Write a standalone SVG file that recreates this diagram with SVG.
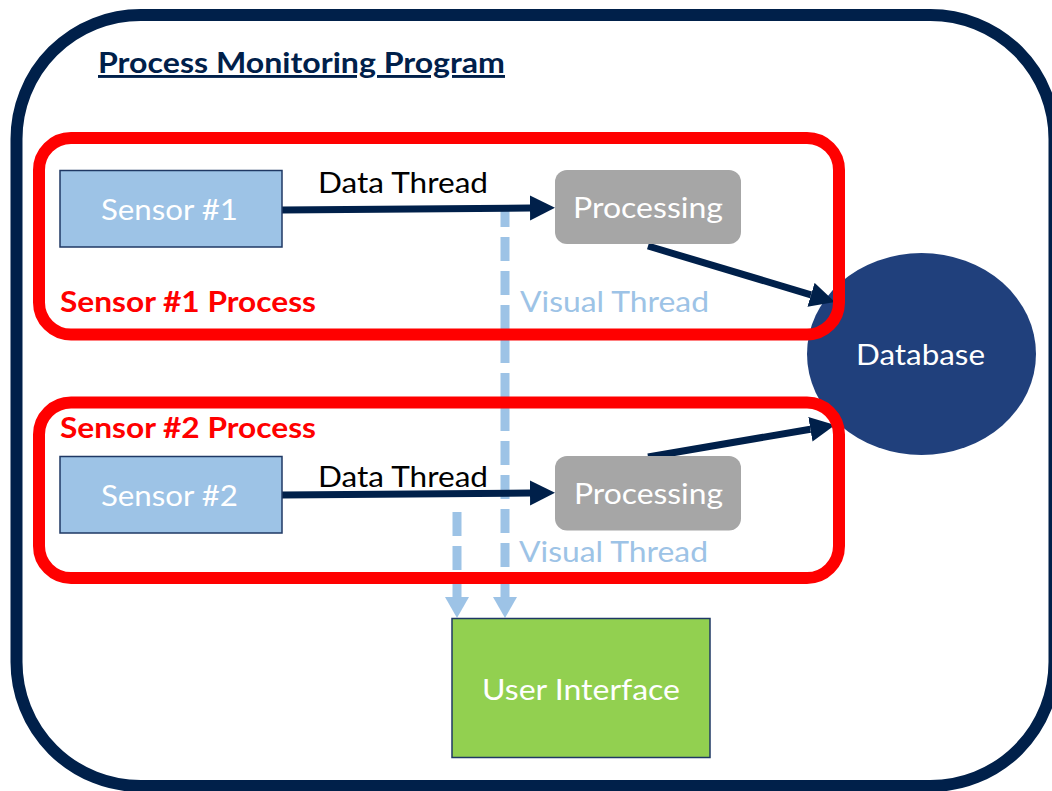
<svg xmlns="http://www.w3.org/2000/svg" width="1052" height="791" viewBox="0 0 1052 791">
  <defs>
    <marker id="navyHead" markerUnits="userSpaceOnUse" markerWidth="26" markerHeight="26" refX="0" refY="12.5" orient="auto">
      <path d="M0,0 L25,12.5 L0,25 Z" fill="#00204A"/>
    </marker>
    <marker id="blueHead" markerUnits="userSpaceOnUse" markerWidth="22" markerHeight="26" refX="0" refY="12" orient="auto">
      <path d="M0,0 L21,12 L0,24 Z" fill="#9DC3E6"/>
    </marker>
    <style>
      .t { font-family: Lato, "Open Sans", "Liberation Sans", sans-serif; font-size: 29px; }
      .b { font-weight: bold; }
      .white { fill: #FFFFFF; }
      .red { fill: #FF0000; }
      .lblue { fill: #9DC3E6; }
      .group { fill: none; stroke: #FF0000; stroke-width: 12; }
      .sensor { fill: #9DC3E6; stroke: #1F3864; stroke-width: 1.5; }
      .proc { fill: #A6A6A6; }
      .data { fill: none; stroke: #00204A; stroke-width: 7; marker-end: url(#navyHead); }
      .visual { fill: none; stroke: #9DC3E6; stroke-width: 9; marker-end: url(#blueHead); }
    </style>
  </defs>
  <rect width="1052" height="791" fill="#FFFFFF"/>

  <g id="frame">
    <rect x="16.5" y="15" width="1038" height="771" rx="124" ry="124" fill="none" stroke="#00204A" stroke-width="12"/>
    <text class="t b" x="98" y="73" textLength="407" lengthAdjust="spacingAndGlyphs" fill="#00204A" text-decoration="underline">Process Monitoring Program</text>
  </g>

  <g id="database">
    <ellipse cx="921.5" cy="354" rx="114.5" ry="101" fill="#20407C"/>
    <text class="t white" x="856" y="365" textLength="129" lengthAdjust="spacingAndGlyphs">Database</text>
  </g>

  <g id="connectors">
    <path class="visual" d="M505,210 V597" stroke-dasharray="24 10" stroke-dashoffset="7"/>
    <path class="visual" d="M457,512 V597" stroke-dasharray="24 10"/>
    <path class="data" d="M282,210 L530,208"/>
    <path class="data" d="M282,495 L530,493"/>
    <path class="data" d="M648,246 L811,294.8"/>
    <path class="data" d="M648,457 L810.4,429.2"/>
  </g>

  <g id="sensor1-process">
    <rect class="group" x="39" y="138" width="800" height="196.5" rx="32" ry="32"/>
    <text class="t b red" x="60" y="312" textLength="256" lengthAdjust="spacingAndGlyphs">Sensor #1 Process</text>
  </g>

  <g id="sensor2-process">
    <rect class="group" x="39" y="402.5" width="800" height="175.5" rx="32" ry="32"/>
    <text class="t b red" x="60" y="438" textLength="256" lengthAdjust="spacingAndGlyphs">Sensor #2 Process</text>
  </g>

  <g id="sensor1">
    <rect class="sensor" x="60" y="170.5" width="222" height="76.5"/>
    <text class="t white" x="101" y="220" textLength="137" lengthAdjust="spacingAndGlyphs">Sensor #1</text>
  </g>

  <g id="sensor2">
    <rect class="sensor" x="60" y="456.5" width="222" height="76.5"/>
    <text class="t white" x="101" y="506" textLength="137" lengthAdjust="spacingAndGlyphs">Sensor #2</text>
  </g>

  <g id="processing1">
    <rect class="proc" x="555" y="170" width="186" height="74" rx="12" ry="12"/>
    <text class="t white" x="573" y="218" textLength="150" lengthAdjust="spacingAndGlyphs">Processing</text>
  </g>

  <g id="processing2">
    <rect class="proc" x="555" y="456" width="186" height="74.5" rx="12" ry="12"/>
    <text class="t white" x="574" y="504" textLength="149" lengthAdjust="spacingAndGlyphs">Processing</text>
  </g>

  <g id="labels">
    <text class="t" x="318" y="193" textLength="170" lengthAdjust="spacingAndGlyphs" fill="#000000">Data Thread</text>
    <text class="t" x="318" y="487" textLength="170" lengthAdjust="spacingAndGlyphs" fill="#000000">Data Thread</text>
    <text class="t lblue" x="520" y="312" textLength="189" lengthAdjust="spacingAndGlyphs">Visual Thread</text>
    <text class="t lblue" x="519" y="562" textLength="189" lengthAdjust="spacingAndGlyphs">Visual Thread</text>
  </g>

  <g id="user-interface">
    <rect x="452" y="618.5" width="258" height="139" fill="#92D050" stroke="#1F3864" stroke-width="1.5"/>
    <text class="t white" x="482" y="700" textLength="198" lengthAdjust="spacingAndGlyphs">User Interface</text>
  </g>
</svg>
